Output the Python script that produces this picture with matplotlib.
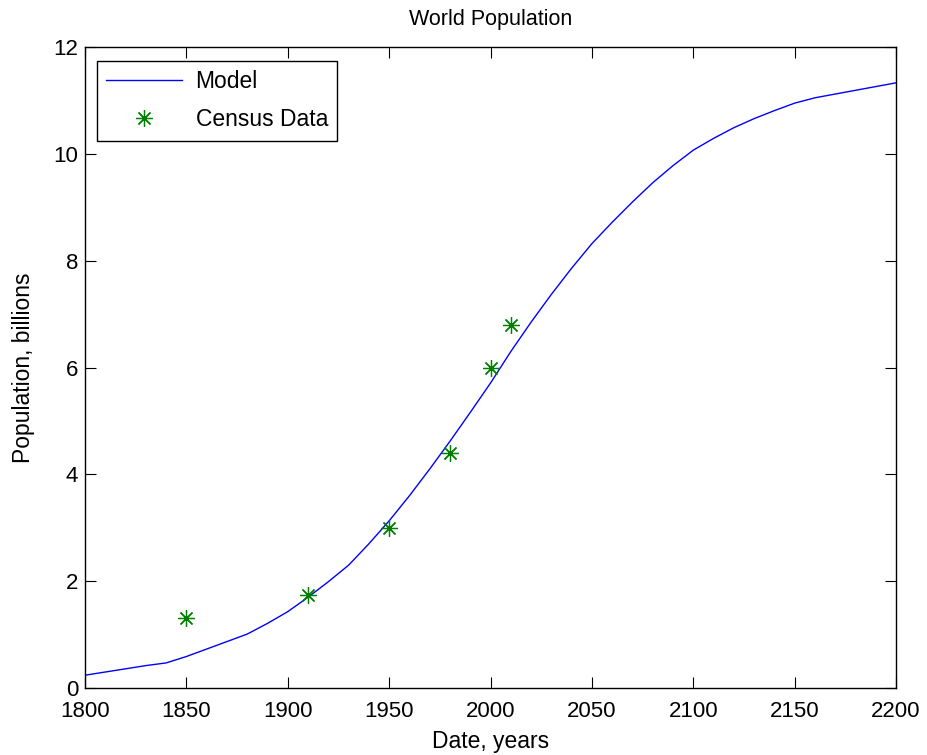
import matplotlib
matplotlib.use("Agg")
from matplotlib import pyplot as plt

# model curve, every 10 years
model_years = [1800, 1810, 1820, 1830, 1840, 1850, 1860, 1870, 1880, 1890,
               1900, 1910, 1920, 1930, 1940, 1950, 1960, 1970, 1980, 1990,
               2000, 2010, 2020, 2030, 2040, 2050, 2060, 2070, 2080, 2090,
               2100, 2110, 2120, 2130, 2140, 2150, 2160, 2170, 2180, 2190, 2200]
model_pop = [0.24, 0.30, 0.36, 0.42, 0.47, 0.59, 0.73, 0.87, 1.01, 1.21,
             1.43, 1.70, 1.99, 2.30, 2.70, 3.13, 3.60, 4.10, 4.62, 5.16,
             5.71, 6.30, 6.85, 7.37, 7.86, 8.32, 8.72, 9.10, 9.46, 9.78,
             10.07, 10.29, 10.49, 10.66, 10.81, 10.95, 11.05, 11.12, 11.19, 11.26, 11.33]

# census points
census_years = [1850, 1910, 1950, 1980, 2000, 2010]
census_pop = [1.32, 1.75, 3.0, 4.4, 6.0, 6.8]

plt.rcParams["font.family"] = ["Liberation Sans", "DejaVu Sans"]

fig = plt.figure(figsize=(9.28, 7.55), dpi=100)
ax = fig.add_axes([0.0916, 0.0887, 0.874, 0.849])

ax.plot(model_years, model_pop, color="blue", lw=1, label="Model")
ax.plot(census_years, census_pop, linestyle="none", marker=(8, 2, 0),
        color=(0, 0.5, 0), ms=12, mew=0.9, label="Census Data")

ax.set_xlim(1800, 2200)
ax.set_ylim(0, 12)
ax.set_xticks(range(1800, 2201, 50))
ax.set_yticks(range(0, 13, 2))
ax.tick_params(direction="in", top=True, right=True, length=8, width=0.8,
               labelsize=16)
ax.tick_params(axis="x", pad=9)
ax.tick_params(axis="y", pad=5)
for s in ax.spines.values():
    s.set_linewidth(1)

ax.set_title("World Population", fontsize=15.5, pad=16)
ax.set_xlabel("Date, years", fontsize=16.5, labelpad=6)
ax.set_ylabel("Population, billions", fontsize=16.5, labelpad=13)

# legend box sits ~12px right of and ~14px below the top-left corner
leg = ax.legend(loc="upper left", fontsize=16.5, fancybox=False, framealpha=1,
                edgecolor="black", borderpad=0.4, handlelength=3.3,
                handletextpad=0.6, labelspacing=0.66, borderaxespad=0,
                bbox_to_anchor=(0.0148, 0.978))
leg.get_frame().set_linewidth(1)

fig.savefig("out.png", dpi=100)
plt.close()
